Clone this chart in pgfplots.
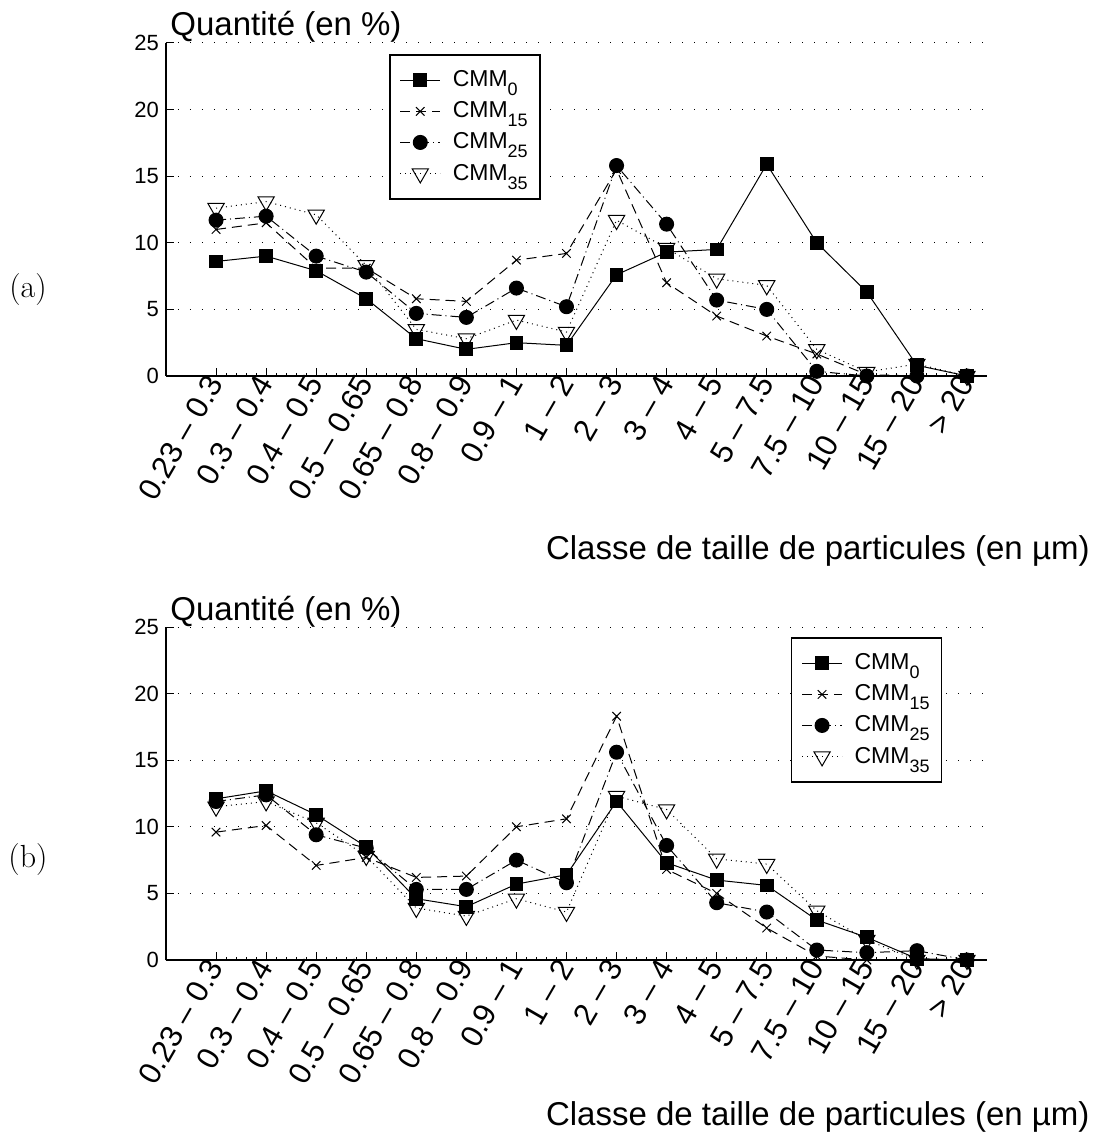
\documentclass[border=0pt]{standalone}
\usepackage{fontspec}
\setsansfont{Liberation Sans}
\usepackage{pgfplots}
\usepackage{pgfplotstable}
\pgfplotsset{compat=1.18}

\pgfplotstableread{
x c0 c15 c25 c35
1 8.6 11.0 11.7 12.6
2 9.0 11.5 12.0 13.1
3 7.9 8.1 9.0 12.1
4 5.8 8.1 7.8 8.3
5 2.8 5.8 4.7 3.5
6 2.0 5.6 4.4 2.8
7 2.5 8.7 6.6 4.2
8 2.3 9.2 5.2 3.3
9 7.6 15.5 15.8 11.7
10 9.3 7.0 11.4 9.6
11 9.5 4.5 5.7 7.3
12 15.9 3.0 5.0 6.8
13 10.0 1.65 0.35 2.0
14 6.3 0.1 0.0 0.3
15 0.8 0.0 0.0 0.9
16 0.0 0.0 0.0 0.0
}\dataA

\pgfplotstableread{
x c0 c15 c25 c35
1 12.1 9.6 11.9 11.5
2 12.7 10.1 12.4 11.9
3 10.9 7.1 9.4 10.3
4 8.5 7.7 8.4 7.8
5 4.6 6.2 5.3 3.9
6 4.0 6.3 5.3 3.3
7 5.7 10.0 7.5 4.6
8 6.4 10.6 5.8 3.6
9 11.9 18.3 15.6 12.3
10 7.3 6.8 8.6 11.3
11 6.0 5.0 4.3 7.6
12 5.6 2.4 3.6 7.2
13 3.0 0.3 0.75 3.7
14 1.7 0.0 0.55 1.5
15 0.1 0.0 0.7 0.0
16 0.0 0.0 0.0 0.0
}\dataB

\newcommand{\sub}[1]{\raisebox{-4.5pt}{\fontsize{9}{9}\selectfont #1}}

\pgfplotsset{
  myax/.style={
    scale only axis, width=410.5pt, height=166.5pt,
    xmin=0, xmax=16.4, ymin=0, ymax=25,
    clip=false,
    axis x line=bottom, axis y line=left,
    axis line style={-, line width=0.6pt},
    xtick={1,...,16},
    xticklabels={0.23 – 0.3, 0.3 – 0.4, 0.4 – 0.5, 0.5 – 0.65, 0.65 – 0.8, 0.8 – 0.9, 0.9 – 1, 1 – 2, 2 – 3, 3 – 4, 4 – 5, 5 – 7.5, 7.5 – 10, 10 – 15, 15 – 20, > 20},
    ytick={0,5,...,25},
    ymajorgrids,
    major grid style={black, line width=0.5pt, dash pattern=on 0.6pt off 5.4pt},
    tick align=inside,
    major tick length=4pt,
    minor x tick num=4, minor tick length=1.5pt,
    tick style={black, line width=0.5pt},
    /pgf/number format/assume math mode=true,
    x tick label style={font=\sffamily\fontsize{15.5}{15.5}\selectfont, rotate=60, anchor=east, inner sep=1pt},
    y tick label style={font=\sffamily\fontsize{11}{11}\selectfont},
    legend cell align=left,
    legend image code/.code={\draw[mark repeat=2, mark phase=2] plot coordinates {(0pt,0pt) (10pt,0pt) (20pt,0pt)};},
    legend style={font=\sffamily\fontsize{11.5}{14}\selectfont, draw=black, line width=0.8pt, anchor=north west,
      nodes={inner sep=1pt}, column sep=5pt, row sep=4pt, inner xsep=5pt, inner ysep=7pt},
    every axis plot/.append style={black, line width=0.5pt},
  },
  s0/.style={solid, mark=square*, mark size=3.2pt, mark options={solid}},
  s15/.style={dash pattern=on 5pt off 3pt, mark=x, mark size=3pt, mark options={solid}},
  s25/.style={dash pattern=on 5pt off 2pt on 0.5pt off 2pt, mark=*, mark size=3.5pt, mark options={solid}},
  s35/.style={dash pattern=on 0.5pt off 2pt, mark=triangle, mark size=4.7pt, mark options={solid, rotate=180}},
}

\begin{document}
\begin{tikzpicture}
\useasboundingbox (-83pt,-87.5pt) rectangle (467pt,480pt);

% (a)
\begin{axis}[myax, at={(0,292pt)}, anchor=south west,
  legend style={at={(rel axis cs:0.2716,0.967)}}]
\addplot[s0] table[x=x,y=c0] {\dataA};
\addlegendentry{CMM\sub{0}}
\addplot[s15] table[x=x,y=c15] {\dataA};
\addlegendentry{CMM\sub{15}}
\addplot[s25] table[x=x,y=c25] {\dataA};
\addlegendentry{CMM\sub{25}}
\addplot[s35] table[x=x,y=c35] {\dataA};
\addlegendentry{CMM\sub{35}}
\node[anchor=base west, inner sep=0pt, font=\sffamily\fontsize{16.5}{16.5}\selectfont] at (rel axis cs:0,1) [xshift=2pt, yshift=3.5pt] {Quantité (en \%)};
\node[anchor=base east, inner sep=0pt, font=\sffamily\fontsize{16.5}{16.5}\selectfont] at (rel axis cs:0,0) [xshift=462pt, yshift=-92pt] {Classe de taille de particules (en µm)};
\node[inner sep=0pt, font=\fontsize{16}{16}\selectfont] at (rel axis cs:0,0) [xshift=-69pt, yshift=43pt] {(a)};
\end{axis}

% (b)
\begin{axis}[myax, at={(0,0)}, anchor=south west,
  legend style={at={(rel axis cs:0.761,0.970)}}]
\addplot[s0] table[x=x,y=c0] {\dataB};
\addlegendentry{CMM\sub{0}}
\addplot[s15] table[x=x,y=c15] {\dataB};
\addlegendentry{CMM\sub{15}}
\addplot[s25] table[x=x,y=c25] {\dataB};
\addlegendentry{CMM\sub{25}}
\addplot[s35] table[x=x,y=c35] {\dataB};
\addlegendentry{CMM\sub{35}}
\node[anchor=base west, inner sep=0pt, font=\sffamily\fontsize{16.5}{16.5}\selectfont] at (rel axis cs:0,1) [xshift=2pt, yshift=3.5pt] {Quantité (en \%)};
\node[anchor=base east, inner sep=0pt, font=\sffamily\fontsize{16.5}{16.5}\selectfont] at (rel axis cs:0,0) [xshift=462pt, yshift=-82.5pt] {Classe de taille de particules (en µm)};
\node[inner sep=0pt, font=\fontsize{16}{16}\selectfont] at (rel axis cs:0,0) [xshift=-69pt, yshift=50pt] {(b)};
\end{axis}
\end{tikzpicture}
\end{document}
